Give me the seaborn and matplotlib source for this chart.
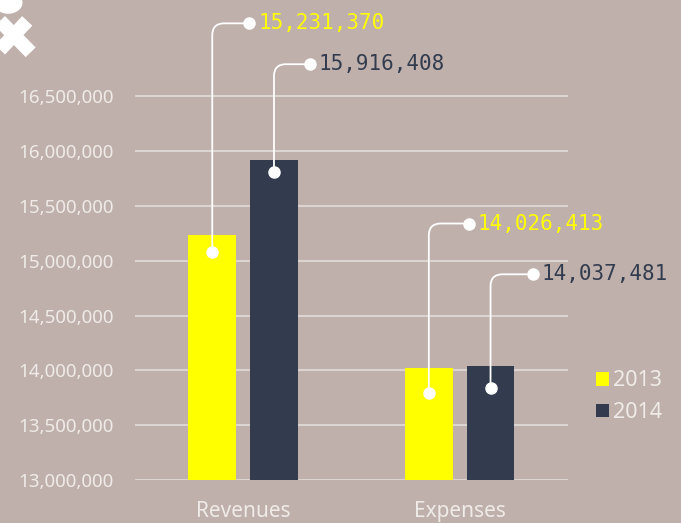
import pandas as pd
import matplotlib
matplotlib.use('Agg')
import matplotlib.pyplot as plt
import matplotlib.transforms as mtransforms
import seaborn as sns

# Dados
categorias = ['Revenues', 'Expenses']
anos = ['2013', '2014']
valores_2013 = [15231370, 14026413]
valores_2014 = [15916408, 14037481]

df = pd.DataFrame({
    'categoria': categorias * 2,
    'ano': [anos[0]] * 2 + [anos[1]] * 2,
    'valor': valores_2013 + valores_2014,
})

fundo = '#bfb0ab'
amarelo = '#ffff00'
azul = '#323c4e'
claro = '#f0ebe8'
grade = '#dcd4d1'

sns.set_style('white')
plt.rcParams['font.family'] = ['Noto Sans', 'DejaVu Sans']

fig = plt.figure(figsize=(6.81, 5.23), dpi=100, facecolor=fundo)
ax = fig.add_axes([0.198, 0.082, 0.636, 0.818])
ax.set_facecolor(fundo)

sns.barplot(data=df, x='categoria', y='valor', hue='ano', order=categorias,
            hue_order=anos, palette=[amarelo, azul], width=0.57, gap=0.23,
            saturation=1, linewidth=0, ax=ax, zorder=2)

ax.set_ylim(13000000, 16900000)
ax.set_xlim(-0.5, 1.5)
ax.set_yticks(range(13000000, 16500001, 500000))
ax.yaxis.set_major_formatter(matplotlib.ticker.FuncFormatter(lambda v, p: f'{int(v):,}'))
ax.yaxis.grid(True, color=grade, linewidth=1.5, zorder=0)
ax.set_axisbelow(True)
for s in ax.spines.values():
    s.set_visible(False)
ax.tick_params(axis='y', colors=claro, labelsize=13.5, length=0, pad=15)
ax.tick_params(axis='x', colors=claro, labelsize=15, length=0, pad=15)
ax.set_xlabel('')
ax.set_ylabel('')

# Legenda
leg = ax.legend(loc='center left', bbox_to_anchor=(1.02, 0.195), frameon=False,
                fontsize=15.5, handlelength=0.6, handleheight=0.6,
                handletextpad=0.2, labelspacing=0.5)
for t in leg.get_texts():
    t.set_color(claro)

# Anotações: (deslocamento do ponto na barra, deslocamento do rótulo)
desloc = {
    (0, 0): (17, 37, 212),
    (1, 0): (12, 36, 96),
    (0, 1): (25, 40, 144),
    (1, 1): (22, 42, 92),
}
cores = [amarelo, azul]
for h, cont in enumerate(ax.containers):
    for c, barra in enumerate(cont.patches):
        xc = barra.get_x() + barra.get_width() / 2
        yv = barra.get_height()
        baixo, dx, dy = desloc[(h, c)]
        trans_ponto = mtransforms.offset_copy(ax.transData, fig=fig, y=-baixo, units='dots')
        trans_rot = mtransforms.offset_copy(ax.transData, fig=fig, x=dx, y=dy, units='dots')
        ax.annotate('', xy=(xc, yv), xycoords=trans_ponto,
                    xytext=(xc, yv), textcoords=trans_rot,
                    arrowprops=dict(arrowstyle='-', color='white', lw=1.3,
                                    shrinkA=0, shrinkB=0,
                                    connectionstyle='angle,angleA=0,angleB=90,rad=12'),
                    annotation_clip=False, zorder=4)
        ax.plot(xc, yv, 'o', color='white', markersize=8, transform=trans_ponto,
                clip_on=False, zorder=5)
        ax.plot(xc, yv, 'o', color='white', markersize=8, transform=trans_rot,
                clip_on=False, zorder=5)
        ax.text(xc, yv, f'{int(yv):,}', transform=mtransforms.offset_copy(
                    ax.transData, fig=fig, x=dx + 9, y=dy, units='dots'),
                color=cores[h], fontsize=15, family=['DejaVu Sans Mono'],
                ha='left', va='center', clip_on=False, zorder=5)

# Logo no canto
fig.add_artist(plt.Line2D([0.0, 0.045], [0.96, 0.9], color='white', lw=10,
                          transform=fig.transFigure, solid_capstyle='butt'))
fig.add_artist(plt.Line2D([0.0, 0.04], [0.905, 0.96], color='white', lw=10,
                          transform=fig.transFigure, solid_capstyle='butt'))
fig.add_artist(matplotlib.patches.Circle((0.012, 0.995), 0.02, color='white',
                                         transform=fig.transFigure))

plt.savefig('out.png', dpi=100, facecolor=fundo)
